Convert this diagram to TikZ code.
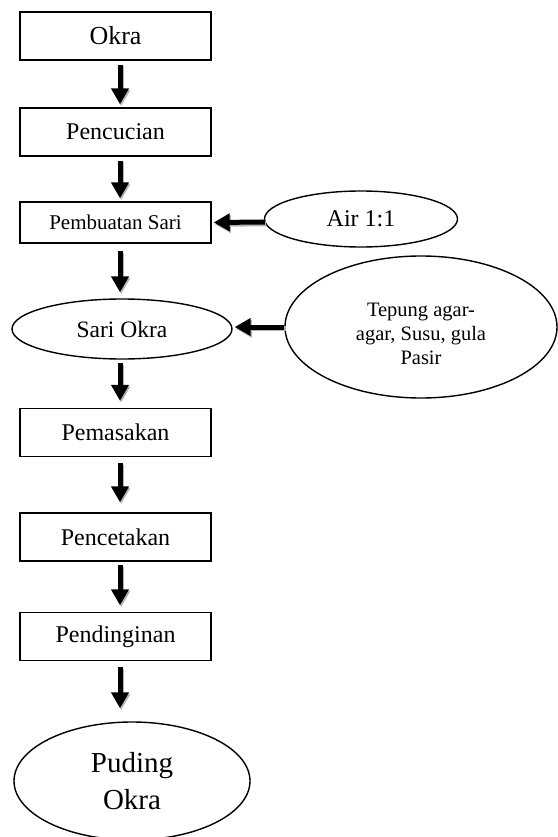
\documentclass[tikz,border=0pt]{standalone}
\usepackage{fontspec}
\setmainfont{Liberation Serif}
\usetikzlibrary{shapes.geometric,arrows.meta}
\tikzset{
  stepbox/.style={draw,line width=1.4pt,minimum width=191pt,minimum height=48pt,inner sep=0pt,font=\fontsize{24}{27}\selectfont},
  oval/.style={draw,ellipse,line width=1.4pt,inner sep=0pt,align=center},
  flowtip/.style={-{Triangle[width=17pt,length=16pt]}},
  flow/.style={line width=5pt,flowtip,
    preaction={draw=black!30,line width=5pt,flowtip,transform canvas={xshift=1.2pt,yshift=-1.8pt}}},
}
\begin{document}
\begin{tikzpicture}[x=1pt,y=-1pt]
\useasboundingbox (0,0) rectangle (557,837);
\node[stepbox,font=\fontsize{26}{29}\selectfont] (okra) at (115.5,36) {Okra};
\node[stepbox] (cuci) at (115.5,132) {Pencucian};
\node[stepbox,minimum height=41pt,font=\fontsize{21}{24}\selectfont] (sari) at (115.5,222.5) {Pembuatan Sari};
\node[oval,minimum width=193pt,minimum height=56pt,font=\fontsize{24}{28}\selectfont] (air) at (361,219) {Air 1:1};
\node[oval,minimum width=220pt,minimum height=60pt,font=\fontsize{23.5}{26}\selectfont] (sariokra) at (122,329) {Sari Okra};
\node[oval,minimum width=272pt,minimum height=142pt] (tepung) at (421,327) {};
\node[align=center,inner sep=0pt,font=\fontsize{20.5}{24}\selectfont] (tepungtext) at (421,334) {Tepung agar-\\agar, Susu, gula\\Pasir};
\node[stepbox] (masak) at (115.5,432.5) {Pemasakan};
\node[stepbox] (cetak) at (115.5,537) {Pencetakan};
\node[stepbox] (dingin) at (115.5,636.5) {Pendinginan};
\node[oval,minimum width=236pt,minimum height=118pt,text width=150pt,font=\fontsize{29}{37}\selectfont] (puding) at (132,781) {Puding\\Okra};
% arrows
\draw[flow] ([xshift=4.5pt,yshift=-4pt]okra.south) -- ([xshift=4.5pt,yshift=3pt]cuci.north);
\draw[flow] ([xshift=4.5pt,yshift=-4pt]cuci.south) -- ([xshift=4.5pt,yshift=3pt]sari.north);
\draw[flow] ([xshift=4.5pt,yshift=-7pt]sari.south) -- ([xshift=-2pt,yshift=6pt]sariokra.north);
\draw[flow] ([xshift=-2pt,yshift=-3pt]sariokra.south) -- ([xshift=4.5pt,yshift=7pt]masak.north);
\draw[flow] ([xshift=4.5pt,yshift=-5.5pt]masak.south) -- ([xshift=4.5pt,yshift=10pt]cetak.north);
\draw[flow] ([xshift=4.5pt,yshift=-3pt]cetak.south) -- ([xshift=4.5pt,yshift=6.5pt]dingin.north);
\draw[flow] ([xshift=4.5pt,yshift=-5.5pt]dingin.south) -- ([xshift=-12pt,yshift=13pt]puding.north);
\draw[flow] ([xshift=1pt,yshift=-3pt]air.west) -- ([xshift=2pt]sari.east);
\draw[flow] (tepung.west) -- ([xshift=2pt,yshift=2pt]sariokra.east);
\end{tikzpicture}
\end{document}
